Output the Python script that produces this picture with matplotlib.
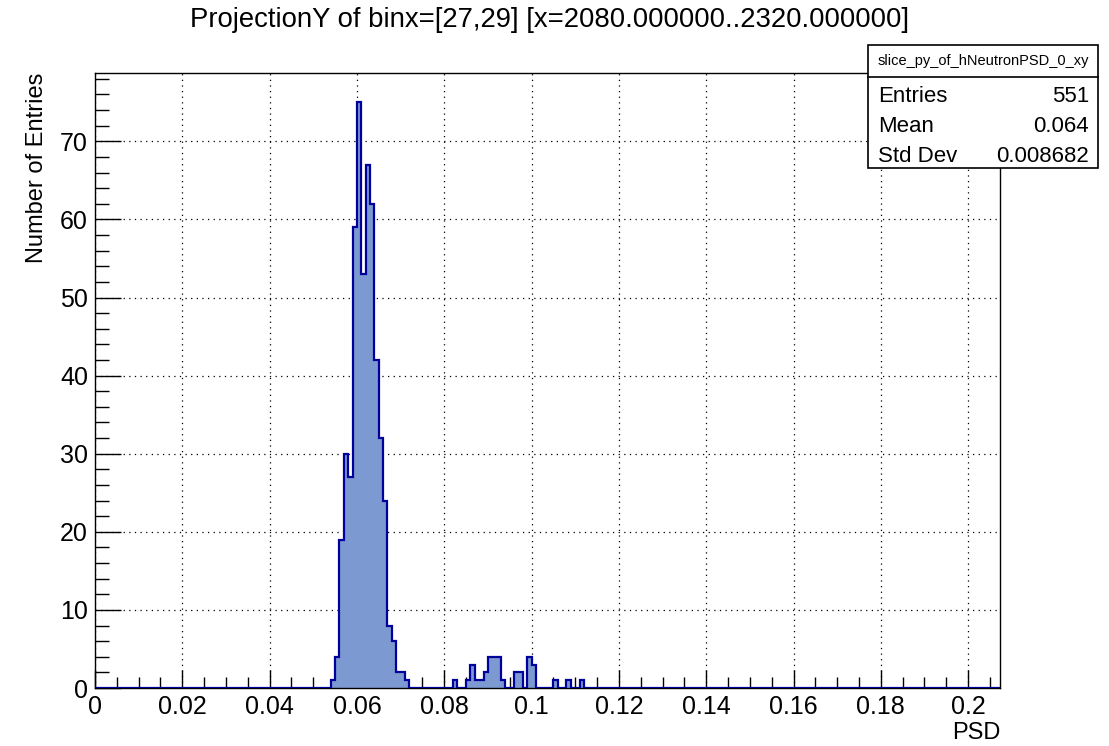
import numpy as np
import matplotlib as mpl
mpl.use('Agg')
import matplotlib.pyplot as plt  # noqa
from matplotlib.patches import Rectangle  # noqa
from matplotlib.ticker import FuncFormatter, MultipleLocator  # noqa

plt.rcParams['font.family'] = ['Liberation Sans', 'DejaVu Sans']

# PSD slice for binx=[27,29]: low edge of each filled bin and its entries
bin_low = [0.054, 0.055, 0.056, 0.057, 0.058, 0.059, 0.060, 0.061, 0.062,
           0.063, 0.064, 0.065, 0.066, 0.067, 0.068, 0.069, 0.070, 0.071,
           0.082, 0.085, 0.086, 0.087, 0.088, 0.089, 0.090, 0.091, 0.092,
           0.093, 0.096, 0.097, 0.099, 0.100, 0.105, 0.108, 0.111]
entries = [1, 4, 19, 30, 27, 59, 75, 53, 67,
           62, 42, 32, 24, 8, 6, 2, 2, 1,
           1, 1, 3, 1, 1, 2, 4, 4, 4,
           1, 2, 2, 4, 3, 1, 1, 1]
bin_width = 0.001
x_max = 0.2073

stats_name = 'slice_py_of_hNeutronPSD_0_xy'
stats_rows = [('Entries', '551'), ('Mean', '0.064'), ('Std Dev', '0.008682')]

W, H = 1109, 746
fig = plt.figure(figsize=(W / 100, H / 100), dpi=100)
ax = fig.add_axes([95 / W, 1 - 688 / H, 905 / W, 615 / H])

edges = np.arange(0, x_max + bin_width, bin_width)
centres = np.array(bin_low) + bin_width / 2
ax.hist(centres, bins=edges, weights=entries, histtype='stepfilled',
        color='#7d99d1', zorder=2)
ax.hist(centres, bins=edges, weights=entries, histtype='step',
        color='#00009a', lw=1.6, zorder=3)

ax.set_xlim(0, x_max)
ax.set_ylim(0, 78.75)
ax.xaxis.set_major_locator(MultipleLocator(0.02))
ax.xaxis.set_minor_locator(MultipleLocator(0.005))
ax.yaxis.set_major_locator(MultipleLocator(10))
ax.yaxis.set_minor_locator(MultipleLocator(2))
ax.xaxis.set_major_formatter(FuncFormatter(lambda v, p: '{:g}'.format(round(v, 4))))
ax.tick_params(which='both', direction='in', top=False, right=False,
               labelsize=18, color='black', width=1)
ax.tick_params(axis='x', which='major', length=13, pad=5)
ax.tick_params(axis='x', which='minor', length=8)
ax.tick_params(axis='y', which='major', length=19, pad=5)
ax.tick_params(axis='y', which='minor', length=10)
ax.grid(True, which='major', color='black', lw=0.9, ls=(0, (1, 3.5)), zorder=1)
ax.set_axisbelow(True)
for sp in ax.spines.values():
    sp.set_linewidth(1)

ax.set_xlabel('PSD', fontsize=17, loc='right', labelpad=2)
ax.set_ylabel('Number of Entries', fontsize=17, loc='top', labelpad=9)

fig.text(550 / W, 1 - 20 / H, 'ProjectionY of binx=[27,29] [x=2080.000000..2320.000000]',
         fontsize=19.8, ha='center', va='center')

# stats box
bx0, bx1, by0, by1, hdr = 868, 1098, 45, 168, 77
fig.patches.append(Rectangle((bx0 / W, 1 - by1 / H), (bx1 - bx0) / W,
                             (by1 - by0) / H, transform=fig.transFigure,
                             facecolor='white', edgecolor='black', lw=1.2,
                             zorder=5))
fig.add_artist(plt.Line2D([bx0 / W, bx1 / W], [1 - hdr / H, 1 - hdr / H],
                          color='black', lw=1.2, zorder=6))
fig.text((bx0 + bx1) / 2 / W, 1 - (by0 + hdr) / 2 / H, stats_name,
         fontsize=10.5, ha='center', va='center', zorder=7)
for i, (name, val) in enumerate(stats_rows):
    yy = 1 - (96 + 30.5 * i) / H
    fig.text(878 / W, yy, name, fontsize=16, ha='left', va='center', zorder=7)
    fig.text(1089 / W, yy, val, fontsize=16, ha='right', va='center', zorder=7)

fig.savefig('out.png', dpi=100, facecolor='white')
